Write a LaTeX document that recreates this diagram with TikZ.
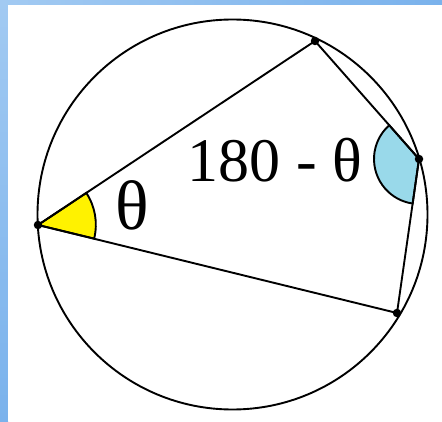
\documentclass[tikz,border=0pt]{standalone}
\usepackage{fontspec}
\setmainfont{Liberation Serif}
\usetikzlibrary{calc}
\definecolor{paintyellow}{RGB}{255,242,0}
\definecolor{paintblue}{RGB}{153,217,234}
\definecolor{edgelight}{RGB}{162,202,242}
\definecolor{edgedark}{RGB}{122,178,236}
\tikzset{
  x=1pt, y=1pt,
  geom/.style={line width=1.9pt, black},
  vtx/.style={circle, fill=black, inner sep=0pt, minimum size=8.5pt},
  angfill/.style={line width=1.9pt, draw=black, fill=#1},
  bigtext/.style={inner sep=0pt, font=\fontsize{62}{66}\selectfont},
  thetatext/.style={inner sep=0pt, font=\fontsize{70}{74}\selectfont}
}
\begin{document}
\begin{tikzpicture}
\useasboundingbox (0,0) rectangle (442,421);
% frame
\shade[top color=edgelight, bottom color=edgedark] (0,0) rectangle (8,421);
\shade[left color=edgelight, right color=edgedark] (0,416) rectangle (442,421);
\fill[white] (8,0) rectangle (442,416);
% points
\coordinate (O) at (232.5,206.5);
\coordinate (A) at (38,196);
\coordinate (B) at (315,380);
\coordinate (C) at (419,262);
\coordinate (D) at (397,108);
% angle markers
\draw[angfill=paintyellow] (A) -- ($(A)!58pt!(B)$) arc[start angle=33.3, end angle=-13.8, radius=58pt] -- cycle;
\draw[angfill=paintblue] (C) -- ($(C)!45pt!(B)$) arc[start angle=131.4, end angle=261.9, radius=45pt] -- cycle;
% circle and quadrilateral
\draw[geom] (O) circle[radius=195pt];
\draw[geom] (A) -- (B) -- (C) -- (D) -- cycle;
\node[vtx] (a) at (A) {};
\node[vtx] (b) at (B) {};
\node[vtx] (c) at (C) {};
\node[vtx] (d) at (D) {};
% labels
\node[bigtext, anchor=base] (lblc) at (275,239) {180 - θ};
\node[thetatext, anchor=base] (lbla) at (132.5,191) {θ};
\end{tikzpicture}
\end{document}
